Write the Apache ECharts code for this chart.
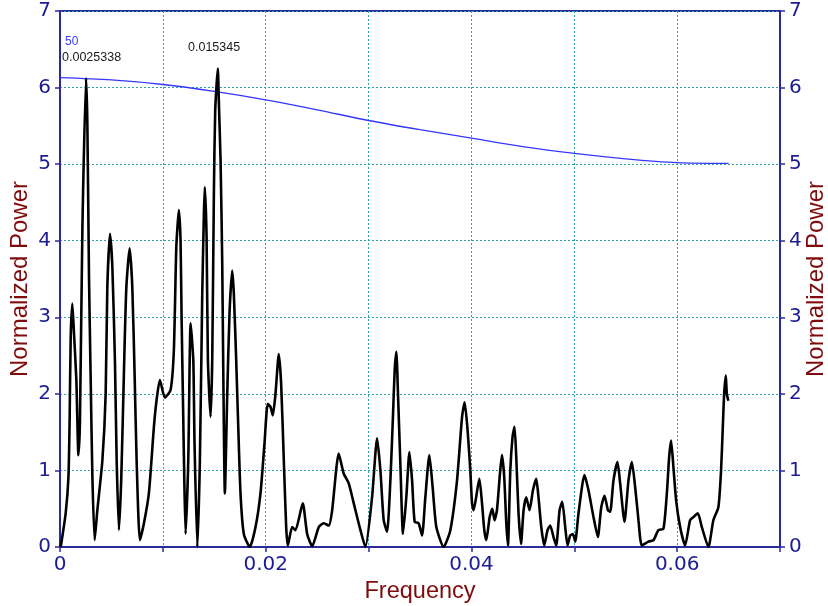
<!DOCTYPE html>
<html>
<head>
<meta charset="utf-8">
<script src="https://cdn.jsdelivr.net/npm/echarts@6/dist/echarts.min.js"></script>
<style>
  html, body { margin: 0; padding: 0; background: #fff; }
  #chart { width: 828px; height: 606px; }
</style>
</head>
<body>
<div id="chart"></div>
<script>
// periodogram
var freq = [
  0.00007, 0.00055, 0.00082, 0.00094, 0.00104, 0.00120, 0.00136, 0.00159, 0.00179, 0.00194,
  0.00218, 0.002534, 0.00266, 0.00282, 0.00298, 0.00315, 0.00337, 0.00363, 0.00412, 0.00444,
  0.00460, 0.00486, 0.00509, 0.00534, 0.00551, 0.00573, 0.00596, 0.00622, 0.00645, 0.00677,
  0.00703, 0.00726, 0.00745, 0.00777, 0.00816, 0.00864, 0.00913, 0.00939, 0.00971, 0.01020,
  0.01075, 0.01107, 0.01131, 0.01156, 0.01172, 0.01182, 0.01195, 0.01208, 0.01221, 0.01247,
  0.01270, 0.01296, 0.01308, 0.01335, 0.01360, 0.01383, 0.01399, 0.01408, 0.01425, 0.01438,
  0.01464, 0.01480, 0.01496, 0.01509, 0.015345, 0.01544, 0.01561, 0.01577, 0.01587, 0.01603,
  0.01626, 0.01648, 0.01674, 0.01690, 0.01713, 0.01733, 0.01755, 0.01787, 0.01845, 0.01901,
  0.01949, 0.01988, 0.02020, 0.02047, 0.02069, 0.02095, 0.02127, 0.02150, 0.02176, 0.02199,
  0.02215, 0.02257, 0.02289, 0.02360, 0.02403, 0.02452, 0.02516, 0.02564, 0.02613, 0.02646,
  0.02710, 0.02758, 0.02807, 0.02856, 0.02921, 0.02969, 0.03034, 0.03083, 0.03115, 0.03147,
  0.03180, 0.03212, 0.03238, 0.03254, 0.03270, 0.03287, 0.03309, 0.03335, 0.03367, 0.03397,
  0.03423, 0.03448, 0.03487, 0.03520, 0.03552, 0.03591, 0.03623, 0.03659, 0.03730, 0.03795,
  0.03860, 0.03909, 0.03934, 0.03963, 0.03989, 0.04006, 0.04021, 0.04077, 0.04103, 0.04125,
  0.04145, 0.04177, 0.04203, 0.04225, 0.04248, 0.04280, 0.04297, 0.04319, 0.04339, 0.04355,
  0.04378, 0.04400, 0.04419, 0.04436, 0.04458, 0.04482, 0.04507, 0.04533, 0.04565, 0.04598,
  0.04630, 0.04652, 0.04679, 0.04708, 0.04740, 0.04766, 0.04798, 0.04824, 0.04857, 0.04883,
  0.04912, 0.04934, 0.04960, 0.04987, 0.05009, 0.05041, 0.05099, 0.05138, 0.05187, 0.05229,
  0.05262, 0.05294, 0.05327, 0.05349, 0.05381, 0.05420, 0.05446, 0.05488, 0.05527, 0.05560,
  0.05592, 0.05624, 0.05657, 0.05721, 0.05770, 0.05818, 0.05867, 0.05900, 0.05922, 0.05941,
  0.05964, 0.05990, 0.06029, 0.06077, 0.06126, 0.06158, 0.06201, 0.06240, 0.06304, 0.06352,
  0.06401, 0.06427, 0.06444, 0.06457, 0.06473, 0.06483, 0.06498
];
var power = [
  0, 0.44, 0.91, 1.70, 2.74, 3.18, 2.79, 2.18, 1.20, 1.65,
  4.18, 6.12, 5.53, 3.52, 2.22, 0.91, 0.09, 0.48, 1.13, 2.00,
  3.39, 4.09, 3.66, 2.44, 1.13, 0.22, 0.91, 2.31, 3.39, 3.90,
  3.39, 2.22, 1.13, 0.09, 0.31, 0.70, 1.57, 1.92, 2.18, 1.95,
  2.05, 2.57, 3.92, 4.40, 4.00, 3.00, 1.96, 0.91, 0.17, 1.13,
  2.92, 2.44, 1.35, 0, 1.13, 3.31, 4.35, 4.70, 4.05, 2.44,
  1.70, 2.44, 4.61, 5.70, 6.25, 5.83, 5.05, 3.74, 2.35, 0.70,
  2.00, 3.05, 3.61, 3.31, 2.44, 1.57, 0.70, 0.17, 0, 0.26,
  0.70, 1.35, 1.87, 1.83, 1.72, 2.00, 2.52, 2.13, 1.13, 0.26,
  0.02, 0.26, 0.22, 0.57, 0.17, 0.01, 0.26, 0.31, 0.28, 0.48,
  1.22, 0.96, 0.83, 0.57, 0.22, 0, 0.65, 1.42, 1.00, 0.35,
  0.20, 0.87, 1.74, 2.31, 2.55, 1.96, 1.09, 0.17, 0.65, 1.24,
  0.87, 0.33, 0.31, 0.15, 0.65, 1.20, 0.78, 0.26, 0, 0.22,
  0.87, 1.70, 1.89, 1.52, 1.00, 0.57, 0.48, 0.89, 0.57, 0.22,
  0.09, 0.39, 0.50, 0.35, 0.48, 1.00, 1.20, 0.91, 0.31, 0.02,
  1.00, 1.44, 1.57, 1.17, 0.44, 0.04, 0.48, 0.65, 0.48, 0.74,
  0.89, 0.65, 0.26, 0.02, 0.22, 0.28, 0.13, 0.02, 0.48, 0.59,
  0.26, 0.02, 0.15, 0.17, 0.07, 0.44, 0.94, 0.74, 0.39, 0.13,
  0.52, 0.67, 0.48, 0.46, 0.87, 1.11, 0.83, 0.33, 0.87, 1.11,
  0.78, 0.35, 0.02, 0.07, 0.09, 0.22, 0.24, 0.70, 1.17, 1.39,
  1.04, 0.61, 0.26, 0.02, 0.35, 0.39, 0.44, 0.26, 0, 0.35,
  0.52, 1.00, 1.57, 2.00, 2.24, 2.00, 1.91
];
// 50% significance level
var levelFreq = [0, 0.005, 0.01, 0.015, 0.02, 0.025, 0.03, 0.035, 0.04, 0.045, 0.05, 0.055, 0.06, 0.065];
var levelPower = [6.13, 6.10, 6.04, 5.95, 5.84, 5.71, 5.57, 5.45, 5.34, 5.23, 5.14, 5.07, 5.02, 5.01];
var levelName = '50';
var peakLabels = ['0.0025338', '0.015345'];

var xTicks = [0, 0.02, 0.04, 0.06];
var xLabelText = ['0', '0.02', '0.04', '0.06'];

var axisCol = '#2a2a9a';
var labelCol = '#1c1c92';
var titleCol = '#7e0c0c';
var gridCol = '#2ea3a3';

var chart = echarts.init(document.getElementById('chart'));

var specData = freq.map(function (f, i) { return [f, power[i]]; });
var levelData = levelFreq.map(function (f, i) { return [f, levelPower[i]]; });

function yAxisCfg(pos, showSplit) {
  return {
    type: 'value',
    position: pos,
    min: 0, max: 7, interval: 1,
    name: 'Normalized Power',
    nameLocation: 'middle',
    nameRotate: 90,
    nameMoveOverlap: false,
    nameGap: pos === 'left' ? 28 : 24,
    nameTextStyle: { color: titleCol, fontSize: 24, fontFamily: 'Liberation Sans' },
    axisLine: { show: true, lineStyle: { color: axisCol, width: 2 } },
    axisTick: { show: true, length: 5, lineStyle: { color: axisCol, width: 1.5 } },
    axisLabel: { color: labelCol, fontSize: 20, fontFamily: 'DejaVu Sans', margin: 9 },
    splitLine: { show: showSplit, lineStyle: { color: gridCol, type: [2, 2], width: 1 } }
  };
}

var option = {
  animation: false,
  backgroundColor: '#fff',
  grid: {
    left: 60, right: 48, top: 11, bottom: 59,
    outerBoundsMode: 'none', containLabel: false,
    show: true, borderColor: axisCol, borderWidth: 2
  },
  xAxis: {
    type: 'value',
    min: 0, max: 0.07, interval: 0.01,
    name: 'Frequency',
    nameLocation: 'middle',
    nameMoveOverlap: false,
    nameGap: 33,
    nameTextStyle: { color: titleCol, fontSize: 23.5, fontFamily: 'Liberation Sans' },
    axisLine: { show: true, onZero: false, lineStyle: { color: axisCol, width: 2 } },
    axisTick: { show: true, length: 5, lineStyle: { color: axisCol, width: 1.5 } },
    axisLabel: {
      color: labelCol, fontSize: 20, fontFamily: 'DejaVu Sans', margin: 8,
      formatter: function (v) {
        for (var i = 0; i < xTicks.length; i++) {
          if (Math.abs(v - xTicks[i]) < 1e-9) return xLabelText[i];
        }
        return '';
      }
    },
    splitLine: { show: true, lineStyle: { color: gridCol, type: [2, 2], width: 1 } }
  },
  yAxis: [yAxisCfg('left', true), yAxisCfg('right', false)],
  series: [
    {
      name: 'level',
      type: 'line',
      data: levelData,
      showSymbol: false,
      smooth: 0.3,
      lineStyle: { color: '#3636ff', width: 1.3 },
      z: 3
    },
    {
      name: 'power',
      type: 'line',
      data: specData,
      showSymbol: false,
      smooth: 0.2,
      lineStyle: { color: '#000', width: 2.6 },
      z: 4
    }
  ],
  graphic: [
    { type: 'text', left: 65, top: 36, style: { text: levelName, fill: '#3a3aff', fontSize: 12, fontFamily: 'Liberation Sans' } },
    { type: 'text', left: 62, top: 51, style: { text: peakLabels[0], fill: '#1a1a1a', fontSize: 12.5, fontFamily: 'Liberation Sans' } },
    { type: 'text', left: 188, top: 41, style: { text: peakLabels[1], fill: '#1a1a1a', fontSize: 12.5, fontFamily: 'Liberation Sans' } }
  ]
};

chart.setOption(option);
</script>
</body>
</html>
